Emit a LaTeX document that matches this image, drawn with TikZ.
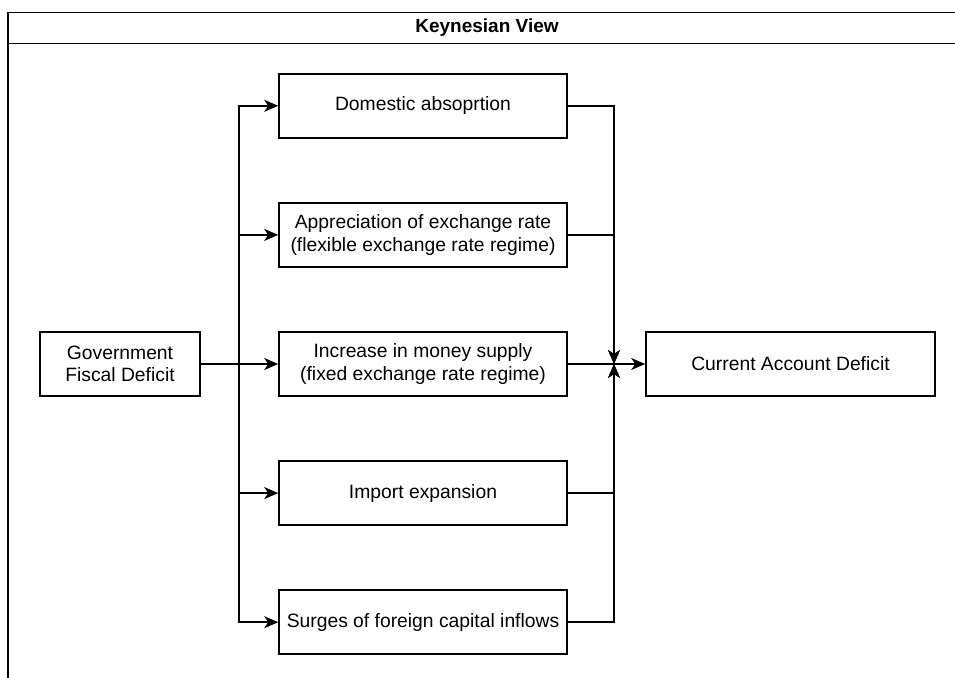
\documentclass[tikz,border=0pt]{standalone}
\usepackage{fontspec}
\setmainfont{Liberation Sans}
\usetikzlibrary{positioning}
\usetikzlibrary{arrows.meta}

\begin{document}
\begin{tikzpicture}[
    x=1pt, y=-1pt,
    line width=1.6pt,
    node distance=63.5pt,
    box/.style={draw, minimum height=64pt, minimum width=288pt,
                align=center, inner sep=2pt,
                font=\fontsize{19.3}{22.5}\selectfont},
    >={Stealth[length=14pt, width=12pt, inset=4pt]}]
    \useasboundingbox (0,0) rectangle (955,677);
    \clip (0,0) rectangle (955,677);
    % frame with title bar
    \draw (8,700) -- (8,12.5) -- (966,12.5) -- (966,700);
    \draw (8,43.5) -- (966,43.5);
    \node[font=\fontsize{19}{22}\selectfont\bfseries] (title) at (487,28)
      {Keynesian View};
    % middle column
    \node[box] (money) at (423,364)
      {Increase in money supply\\(fixed exchange rate regime)};
    \node[box, above=of money] (appr)
      {Appreciation of exchange rate\\(flexible exchange rate regime)};
    \node[box, above=of appr] (dom) {Domestic absoprtion};
    \node[box, below=of money] (import) {Import expansion};
    \node[box, below=of import] (surges) {Surges of foreign capital inflows};
    % outer boxes
    \node[box, minimum width=160pt] (gov) at (120,364)
      {Government\\Fiscal Deficit};
    \node[box, minimum width=289pt] (cad) at (790.5,364)
      {Current Account Deficit};
    \coordinate (split) at (239,364);
    \coordinate (join) at (614,364);
    % fan out
    \draw[->] (gov) -- (money);
    \draw[->] (split) |- (dom);
    \draw[->] (split) |- (appr);
    \draw[->] (split) |- (import);
    \draw[->] (split) |- (surges);
    % fan in
    \draw[->] (dom) -| (join);
    \draw[->] (appr) -| (join);
    \draw[->] (import) -| (join);
    \draw[->] (surges) -| (join);
    \draw[->] (money) -- (cad);
\end{tikzpicture}
\end{document}
